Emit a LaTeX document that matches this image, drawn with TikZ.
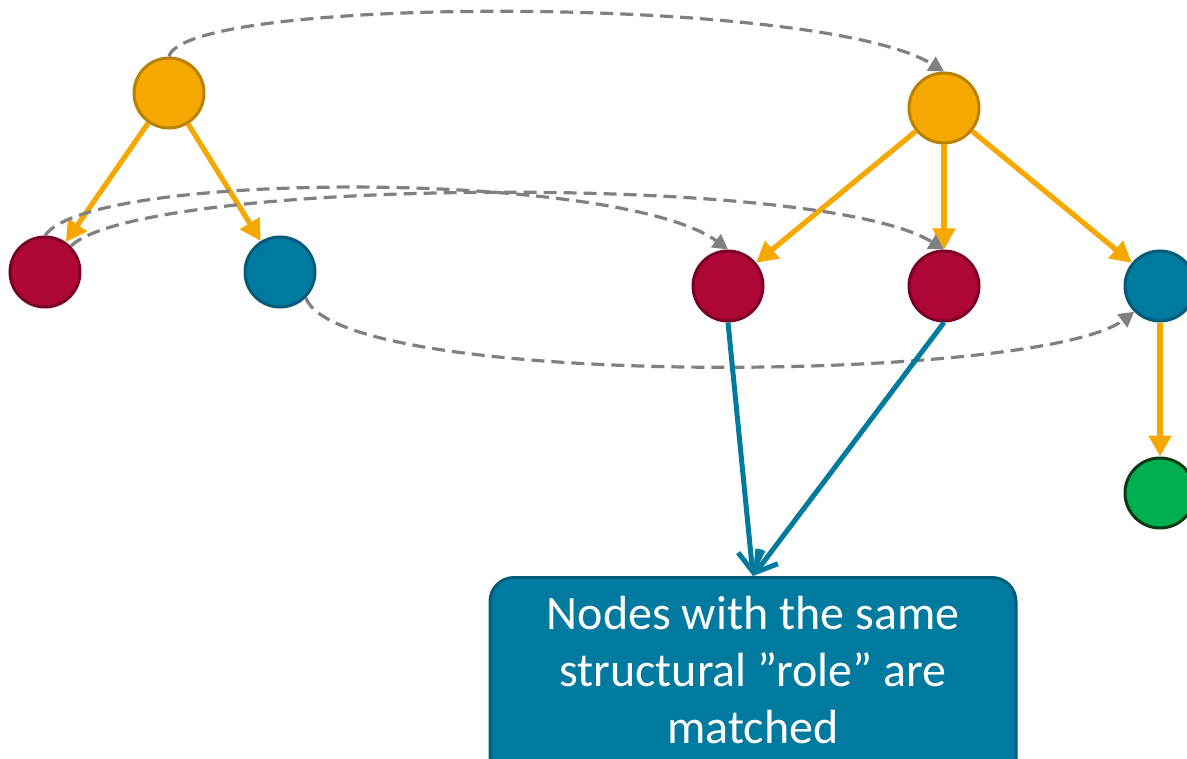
\documentclass[tikz,border=0pt]{standalone}
\usepackage{fontspec}
\setmainfont{Carlito}
\usetikzlibrary{arrows.meta}
\definecolor{ambfill}{HTML}{F5A800}
\definecolor{ambline}{HTML}{B98100}
\definecolor{redfill}{HTML}{AF0638}
\definecolor{redline}{HTML}{7A0026}
\definecolor{tealfill}{HTML}{007A9E}
\definecolor{tealline}{HTML}{005C78}
\definecolor{grnfill}{HTML}{00AF4F}
\definecolor{grnline}{HTML}{0C3A12}
\definecolor{linkgray}{HTML}{808080}
\begin{document}
\begin{tikzpicture}[x=0.5pt,y=-0.5pt,
  vertex/.style={circle, minimum size=35pt, inner sep=0pt, line width=1.5pt},
  amb/.style={vertex, fill=ambfill, draw=ambline},
  crimson/.style={vertex, fill=redfill, draw=redline},
  teal/.style={vertex, fill=tealfill, draw=tealline},
  grn/.style={vertex, fill=grnfill, draw=grnline},
  edge/.style={draw=ambfill, line width=2.6pt, -{Triangle[length=10.5pt,width=11pt]}},
  link/.style={draw=linkgray, line width=1.6pt, dash pattern=on 6.5pt off 3.5pt,
    -{Triangle[length=7.5pt,width=8pt]}},
  hint/.style={draw=tealfill, line width=2.5pt, -{Straight Barb[length=10pt,width=12.5pt]}},
  box/.style={draw=tealline, fill=tealfill, line width=1.5pt, rounded corners=12pt},
  boxtext/.style={text=white, align=center, inner sep=0pt,
    font=\fontsize{24pt}{28.5pt}\selectfont}
]
\useasboundingbox (0,0) rectangle (1187,759);
\clip (0,0) rectangle (1187,759);

% first tree
\node[amb] (ol) at (169,93) {};
\node[crimson] (rl) at (45,272) {};
\node[teal] (bl) at (280,272) {};

% second tree
\node[amb] (or) at (944,108) {};
\node[crimson] (rm) at (728,286) {};
\node[crimson] (r2) at (944,286) {};
\node[teal] (br) at (1160,286) {};
\node[grn] (gr) at (1160,493) {};

% explanation box
\node[box, minimum width=263pt, minimum height=120pt, anchor=north] (box) at (753,576) {};
\node[boxtext, anchor=north] (caption) at (753,596)
  {Nodes with the same\\structural ”role” are\\matched};

% tree edges
\draw[edge] (ol) -- (rl);
\draw[edge] (ol) -- (bl);
\draw[edge] (or) -- (rm);
\draw[edge] (or) -- (r2);
\draw[edge] (or) -- (br);
\draw[edge] (br) -- (gr);

% node correspondences
\draw[link] (ol.north) .. controls (185,-5) and (820,-5) .. (or.north);
\draw[link] (rl.north) .. controls (90,170) and (620,170) .. (rm.north);
\draw[link] (rl.north east) .. controls (140,178) and (820,172) .. (r2.north);
\draw[link] (bl.south east) .. controls (340,390) and (1040,383) .. (br.south west);

% pointers to the box
\draw[hint] (rm.south) -- (box.north);
\draw[hint] (r2.south) -- (box.north);
\end{tikzpicture}
\end{document}
